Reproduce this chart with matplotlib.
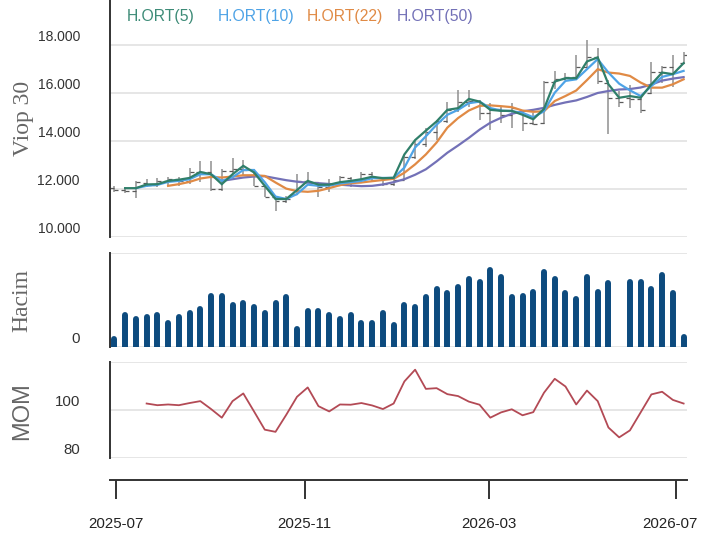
import matplotlib
matplotlib.use('Agg')
import matplotlib.pyplot as plt
import matplotlib.transforms as mtransforms
import numpy as np
import pandas as pd

nan = np.nan

# ---------------- data ----------------
weeks = pd.date_range('2025-06-30', periods=54, freq='7D')

open_ = [12040, 11960, 11930, 12250, 12170, 12330, 12420, 12330, 12700, 12720,
         12000, 12750, 12830, 12780, 12150, 11690, 11500, 11800, 12350, 12280,
         12100, 12160, 12450, 12290, 12620, 12450, 12200, 12400, 13350, 13880,
         14400, 14850, 15300, 15650, 15700, 15200, 15350, 15100, 15250, 14750,
         14770, 16480, 16600, 16700, 17100, 17500, 16450, 15820, 15800, 15750,
         16000, 16900, 17100, 17250]
high = [12140, 12070, 12350, 12410, 12450, 12510, 12500, 12870, 13160, 13160,
        12830, 13280, 13200, 12830, 12150, 11700, 11700, 12620, 12700, 12290,
        12410, 12540, 12500, 12700, 12700, 12500, 12410, 13380, 14000, 14560,
        14900, 15650, 16140, 16140, 15720, 15600, 15480, 15600, 15300, 15170,
        16500, 16950, 16840, 17600, 18210, 17900, 16550, 16100, 16350, 15900,
        17300, 17150, 17600, 17730]
low = [11890, 11830, 11630, 12070, 12080, 12140, 12150, 12210, 12280, 11920,
       11930, 12620, 12540, 12140, 11670, 11080, 11420, 11750, 12280, 11670,
       11880, 12120, 12080, 12290, 12330, 12130, 12120, 12400, 13240, 13740,
       14070, 14770, 15240, 15450, 14900, 14480, 14770, 14560, 14420, 14660,
       14700, 16200, 16540, 16540, 17050, 16400, 14300, 15450, 15400, 15190,
       15960, 16450, 16250, 17220]
close = [11960, 11920, 12290, 12170, 12330, 12420, 12330, 12700, 12720, 12020,
         12750, 12830, 12800, 12150, 11690, 11500, 11600, 12350, 12280, 12100,
         12160, 12500, 12290, 12620, 12500, 12200, 12380, 13350, 13880, 14400,
         14850, 15300, 15650, 15700, 15200, 15350, 15100, 15380, 14750, 14700,
         16480, 16600, 16700, 17100, 17500, 16500, 15820, 15650, 15750, 15300,
         16900, 17100, 16900, 17600]

ma5 = [nan, 12040, 12040, 12195, 12207, 12344, 12393, 12468, 12716, 12621,
       12207, 12621, 12973, 12696, 12137, 11586, 11586, 11959, 12344, 12186,
       12186, 12290, 12344, 12414, 12518, 12455, 12472, 13449, 14049, 14443,
       14828, 15312, 15382, 15767, 15656, 15312, 15270, 15270, 15105, 14919,
       15353, 16492, 16633, 16633, 17332, 17502, 16380, 15817, 15887, 15817,
       16380, 16869, 16802, 17262]
ma10 = [nan, nan, 12040, 12137, 12178, 12302, 12344, 12414, 12621, 12621,
        12344, 12497, 12799, 12799, 12290, 11690, 11586, 11793, 12186, 12137,
        12153, 12240, 12290, 12344, 12455, 12468, 12472, 12898, 13739, 14207,
        14691, 15105, 15312, 15589, 15656, 15386, 15283, 15254, 15188, 15002,
        15254, 16028, 16521, 16587, 17009, 17431, 16869, 16405, 16128, 15887,
        16306, 16687, 16802, 16939]
ma22 = [nan, nan, nan, nan, nan, 12137, 12207, 12302, 12443, 12509,
        12484, 12526, 12580, 12580, 12551, 12277, 12021, 11917, 11888, 11930,
        12041, 12166, 12248, 12277, 12331, 12381, 12431, 12683, 13035, 13449,
        13946, 14567, 14968, 15283, 15478, 15498, 15465, 15424, 15283, 15229,
        15254, 15680, 15890, 16120, 16554, 17010, 16869, 16828, 16728, 16451,
        16239, 16239, 16380, 16587]
ma50 = [nan, nan, nan, nan, nan, nan, nan, nan, nan, nan,
        12344, 12414, 12484, 12526, 12538, 12455, 12373, 12310, 12269, 12248,
        12215, 12186, 12153, 12124, 12137, 12195, 12290, 12414, 12600, 12828,
        13159, 13519, 13822, 14140, 14484, 14774, 14980, 15146, 15250, 15312,
        15395, 15519, 15622, 15705, 15850, 16016, 16099, 16161, 16181, 16244,
        16368, 16533, 16616, 16678]

volume = [34, 107, 94, 100, 107, 82, 100, 112, 124, 165,
          165, 136, 142, 130, 112, 142, 160, 64, 117, 117,
          107, 94, 107, 82, 82, 112, 77, 136, 130, 160,
          184, 172, 190, 214, 207, 244, 220, 160, 165, 177,
          237, 214, 172, 154, 220, 177, 202, 10, 207, 207,
          184, 227, 172, 40]

mom = [nan, nan, nan, 102.7, 102.0, 102.3, 102.0, 102.9, 103.7, 100.4,
       96.8, 103.7, 106.9, 99.4, 91.8, 90.9, 98.0, 105.5, 109.4, 101.6,
       99.4, 102.3, 102.2, 102.9, 101.9, 100.4, 102.7, 111.9, 116.8, 108.8,
       109.1, 106.6, 105.8, 103.5, 102.2, 96.8, 99.0, 100.3, 97.8, 99.1,
       107.2, 113.0, 109.8, 102.3, 108.1, 103.7, 92.7, 88.6, 91.5, 99.0,
       106.5, 107.6, 104.2, 102.7]

ma_labels = ['H.ORT(5)', 'H.ORT(10)', 'H.ORT(22)', 'H.ORT(50)']
price_ticks = [10000, 12000, 14000, 16000, 18000]
price_ticklabels = ['10.000', '12.000', '14.000', '16.000', '18.000']
date_ticks = ['2025-07-01', '2025-11-01', '2026-03-01', '2026-07-01']
date_ticklabels = ['2025-07', '2025-11', '2026-03', '2026-07']

# ---------------- style ----------------
W, H = 701, 538
colors = ['#2f7f6a', '#4ea3e6', '#e08a45', '#7371b7']
legend_colors = ['#3d8b77', '#4ea3e6', '#e08a45', '#7371b7']
grid_c = '#e6e6e6'
spine_c = '#333333'
tick_font = 'Liberation Sans'

fig = plt.figure(figsize=(W / 100, H / 100), dpi=100)

def rect(top, bottom, left=110, right=687):
    return [left / W, 1 - bottom / H, (right - left) / W, (bottom - top) / H]

xmin = pd.Timestamp('2025-06-27 03:00')
xmax = pd.Timestamp('2026-07-08 05:00')

ax1 = fig.add_axes(rect(0, 237))
ax2 = fig.add_axes(rect(253, 347))
ax3 = fig.add_axes(rect(362, 458))

for ax in (ax1, ax2, ax3):
    for s in ('top', 'right', 'bottom'):
        ax.spines[s].set_visible(False)
    ax.spines['left'].set_color(spine_c)
    ax.spines['left'].set_linewidth(1.4)
    ax.set_xlim(xmin, xmax)
    ax.yaxis.grid(True, color=grid_c, linewidth=1.4)
    ax.set_axisbelow(True)
    ax.tick_params(axis='x', bottom=False, labelbottom=False)
    ax.set_facecolor('white')

# ---- price panel ----
day = pd.Timedelta(days=1)
tick_half = 2.6 * day
ax1.vlines(weeks, low, high, color='#8f8f8f', linewidth=1.1, zorder=2)
ax1.hlines(open_, weeks - tick_half, weeks, color='#5a5a5a', linewidth=0.9, zorder=2)
ax1.hlines(close, weeks, weeks + tick_half, color='#5a5a5a', linewidth=0.9, zorder=2)
for vals, c in zip([ma50, ma22, ma10, ma5], colors[::-1]):
    ax1.plot(weeks, vals, color=c, linewidth=1.6, zorder=3, solid_joinstyle='miter')
ax1.set_ylim(10000, 19900)
ax1.set_yticks(price_ticks)
ax1.set_yticklabels(price_ticklabels)
ax1.tick_params(axis='y', length=0, pad=21.6, labelsize=10, labelcolor='#333333')

# ---- volume panel ----
vmax = 285
cap_r = 3.0 / 94 * vmax
vol_top = [max(v - cap_r, 0.5) for v in volume]
ax2.vlines(weeks, 0, vol_top, color='#0d4b7e', linewidth=4.3, capstyle='round', zorder=2)
ax2.set_ylim(0, vmax)
ax2.set_yticks([0, vmax])
ax2.set_yticklabels(['0', ''])
ax2.tick_params(axis='y', length=0, pad=21.6, labelsize=10.8, labelcolor='#333333')

# ---- MOM panel ----
ax3.plot(weeks, mom, color='#b34a55', linewidth=1.3, zorder=3)
ax3.set_ylim(80, 120)
ax3.set_yticks([80, 100, 120])
ax3.set_yticklabels(['80', '100', ''])
ax3.tick_params(axis='y', length=0, pad=21.6, labelsize=10.8, labelcolor='#333333')

# ---- shared date axis ----
axx = fig.add_axes([110 / W, 1 - 480 / H, 577 / W, 0.0005])
axx.set_xlim(xmin, xmax)
axx.patch.set_visible(False)
for s in ('top', 'right', 'left'):
    axx.spines[s].set_visible(False)
axx.spines['bottom'].set_color(spine_c)
axx.spines['bottom'].set_linewidth(1.4)
axx.set_yticks([])
axx.set_xticks(pd.to_datetime(date_ticks))
axx.set_xticklabels(date_ticklabels)
axx.tick_params(axis='x', direction='out', length=13.7, width=1.4, color=spine_c,
                pad=12.6, labelsize=10.8, labelcolor='#222222')

for ax in (ax1, ax2, ax3, axx):
    for lab in ax.get_xticklabels() + ax.get_yticklabels():
        lab.set_fontfamily(tick_font)

# keep the last date label inside the figure (right-aligned)
last = axx.xaxis.get_major_ticks()[-1].label1
last.set_horizontalalignment('right')
last.set_transform(last.get_transform() +
                   mtransforms.ScaledTranslation(0.215, 0, fig.dpi_scale_trans))

# raise y tick labels above their grid lines
shift = mtransforms.ScaledTranslation(0, 0.095, fig.dpi_scale_trans)
for ax in (ax1, ax2, ax3):
    for t in ax.yaxis.get_major_ticks():
        t.label1.set_transform(t.label1.get_transform() + shift)

# ---- axis titles ----
fig.text(23 / W, 1 - 118 / H, 'Viop 30', rotation=90, ha='center', va='center',
         fontsize=17, color='#666666', family='Liberation Serif')
fig.text(22 / W, 1 - 300 / H, 'Hacim', rotation=90, ha='center', va='center',
         fontsize=17, color='#666666', family='Liberation Serif')
fig.text(22 / W, 1 - 411 / H, 'MOM', rotation=90, ha='center', va='center',
         fontsize=17, color='#666666', family='Liberation Sans')

# ---- legend (coloured text) ----
legend_x = [127, 218, 307, 397]
for lx, lab, c in zip(legend_x, ma_labels, legend_colors):
    fig.text(lx / W, 1 - 16 / H, lab, ha='left', va='center', fontsize=11.3,
             color=c, family=tick_font)

fig.savefig('out.png', dpi=100, facecolor='white')
